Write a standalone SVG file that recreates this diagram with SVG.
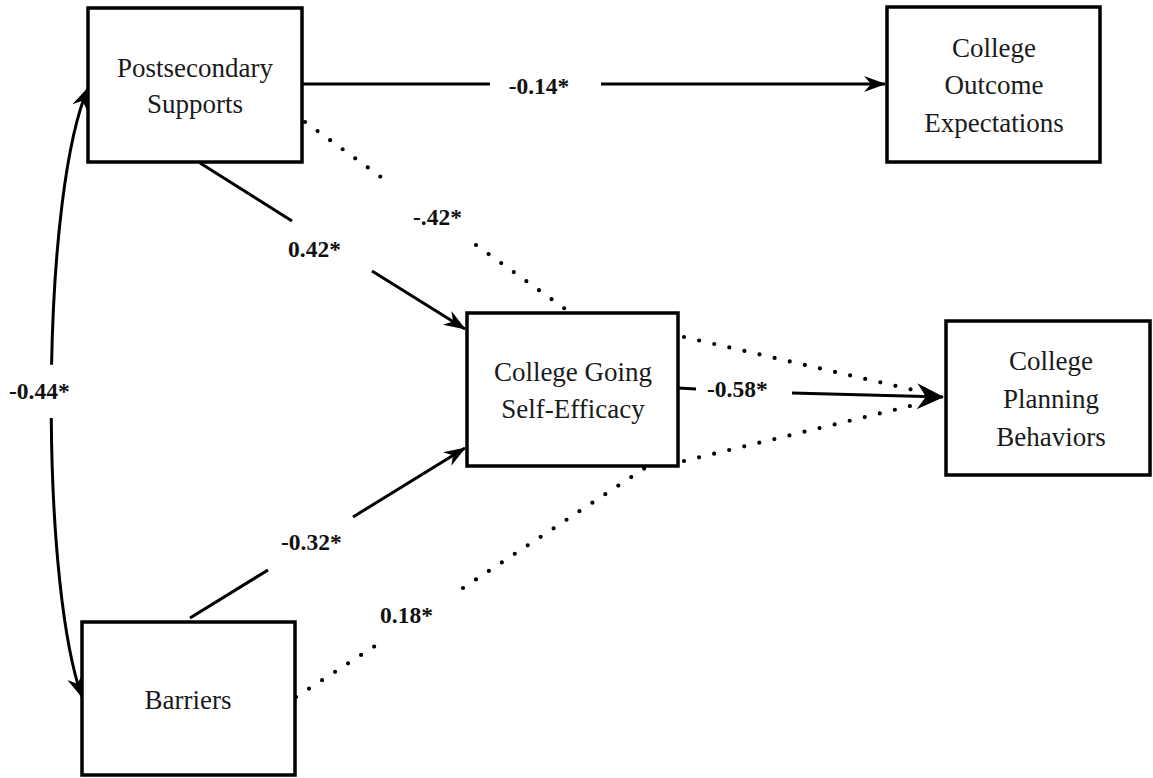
<svg xmlns="http://www.w3.org/2000/svg" width="1153" height="778" viewBox="0 0 1153 778">
<style>
.box{fill:#fff;stroke:#000;stroke-width:3.5}
.nt{font-family:"Liberation Serif","Times New Roman",serif;font-size:27px;fill:#1a1a1a;text-anchor:middle}
.lb{font-family:"Liberation Serif","Times New Roman",serif;font-size:23.5px;font-weight:bold;fill:#111}
.sl{fill:none;stroke:#000;stroke-width:3}
.dl{fill:none;stroke:#000;stroke-width:4.2;stroke-linecap:round;stroke-dasharray:0 15.5}
</style>
<defs>
<marker id="ah" markerUnits="userSpaceOnUse" orient="auto-start-reverse" overflow="visible" refX="0" refY="0" markerWidth="30" markerHeight="30">
<path d="M1,0 L-21,-8 L-14,0 L-21,8 Z" fill="#000"/>
</marker>
<marker id="ahb" markerUnits="userSpaceOnUse" orient="auto" overflow="visible" refX="0" refY="0" markerWidth="40" markerHeight="40">
<path d="M1,0 L-26,-13 L-17,0 L-26,13 Z" fill="#000"/>
</marker>
</defs>
<rect width="1153" height="778" fill="#fff"/>
<g id="connectors">
<path class="sl" d="M302,84 L490,84"/>
<path class="sl" d="M601,84 L885,84" marker-end="url(#ah)"/>
<path class="sl" d="M200,163 L292,221"/>
<path class="sl" d="M372,271 L465,329" marker-end="url(#ah)"/>
<path class="sl" d="M190,618 L268,570"/>
<path class="sl" d="M353,517 L465,448" marker-end="url(#ah)"/>
<path class="sl" d="M678,388 L696,389" stroke-width="4"/>
<path class="sl" d="M792,393 L943,397" stroke-width="4" marker-end="url(#ahb)"/>
<path class="sl" d="M88,88 C65.68,140.08 53.74,250.11 51.57,364.68" marker-start="url(#ah)"/>
<path class="sl" d="M51.27,418.07 C52.11,532.31 62.55,642.83 82,697" marker-end="url(#ah)"/>
<path class="dl" d="M305,122 L392,185"/>
<path class="dl" d="M476,245 L568,311"/>
<path class="dl" d="M296,697 L375,646"/>
<path class="dl" d="M463,588 L645,468"/>
<path class="dl" d="M684,337 L935,395"/>
<path class="dl" d="M684,461 L935,400"/>
</g>
<g id="labels">
<text class="lb" x="9" y="399">-0.44*</text>
<text class="lb" x="539" y="94" text-anchor="middle">-0.14*</text>
<text class="lb" x="288" y="257">0.42*</text>
<text class="lb" x="413" y="225">-.42*</text>
<text class="lb" x="281" y="550">-0.32*</text>
<text class="lb" x="380" y="623">0.18*</text>
<text class="lb" x="707" y="397">-0.58*</text>
</g>
<g id="postsecondary">
<rect class="box" x="88" y="8" width="214" height="154"/>
<text class="nt" x="195" y="77">Postsecondary</text>
<text class="nt" x="195" y="113">Supports</text>
</g>
<g id="outcome">
<rect class="box" x="887" y="7" width="213" height="155"/>
<text class="nt" x="994" y="57">College</text>
<text class="nt" x="994" y="94">Outcome</text>
<text class="nt" x="994" y="132">Expectations</text>
</g>
<g id="selfefficacy">
<rect class="box" x="467" y="313" width="211" height="153"/>
<text class="nt" x="573" y="381">College Going</text>
<text class="nt" x="573" y="418">Self-Efficacy</text>
</g>
<g id="planning">
<rect class="box" x="946" y="321" width="204" height="154"/>
<text class="nt" x="1051" y="370">College</text>
<text class="nt" x="1051" y="408">Planning</text>
<text class="nt" x="1051" y="446">Behaviors</text>
</g>
<g id="barriers">
<rect class="box" x="82" y="622" width="213" height="153"/>
<text class="nt" x="188" y="709">Barriers</text>
</g>
</svg>
